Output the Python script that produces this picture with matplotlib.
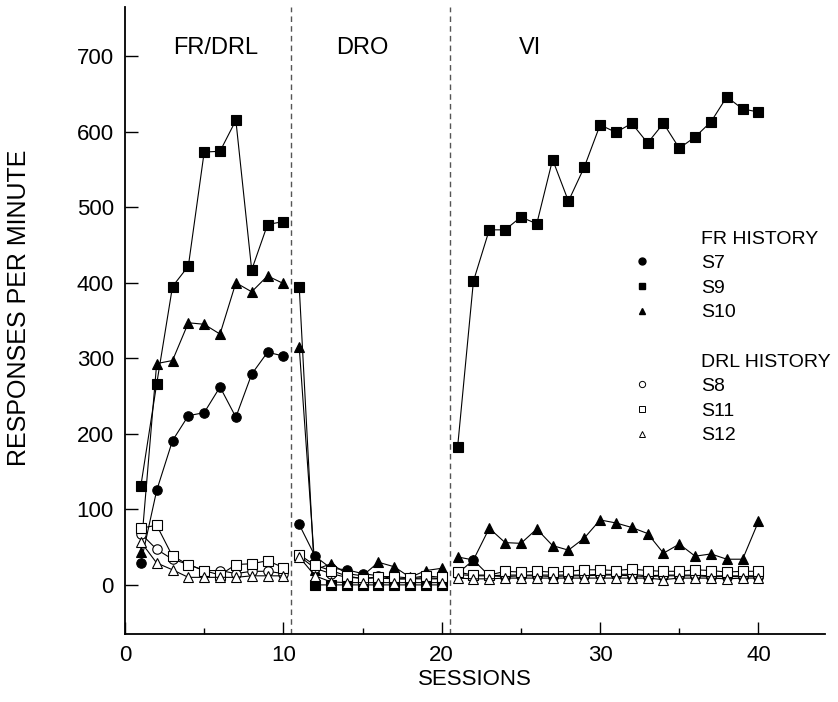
import matplotlib
matplotlib.use("Agg")
import matplotlib.pyplot as plt
from matplotlib.lines import Line2D

plt.rcParams["font.family"] = ["Liberation Sans", "DejaVu Sans"]

# Sessions 1-40, split into three experimental phases
SESSIONS = list(range(1, 41))
PHASES = [("FR/DRL", 1, 10), ("DRO", 11, 20), ("VI", 21, 40)]

# FR history subjects
S7 = [29, 125, 191, 224, 228, 262, 222, 279, 308, 303,
      80, 38, 22, 20, 15, 12, 8, 8, 10, 8,
      15, 33, 12, 11, 12, 12, 11, 12, 12, 13, 13, 12, 11, 12, 12, 12, 11, 11, 11, 11]
S9 = [131, 266, 395, 422, 573, 574, 615, 417, 477, 481,
      395, 0, 0, 0, 0, 0, 0, 0, 0, 0,
      182, 402, 470, 470, 487, 478, 563, 508, 553, 609,
      599, 611, 585, 611, 578, 593, 613, 646, 630, 626]
S10 = [44, 293, 297, 347, 345, 332, 400, 388, 409, 399,
       315, 20, 28, 15, 12, 30, 24, 10, 19, 22,
       37, 33, 75, 56, 55, 74, 52, 46, 62, 86, 82, 76, 68, 42, 54, 38, 41, 34, 34, 84]

# DRL history subjects
S8 = [68, 47, 34, 27, 19, 19, 15, 18, 18, 15,
      38, 22, 15, 10, 9, 9, 8, 8, 8, 8,
      14, 12, 12, 13, 13, 13, 13, 13, 13, 14, 14, 14, 12, 13, 13, 13, 12, 12, 12, 12]
S11 = [75, 79, 38, 27, 19, 13, 27, 28, 32, 23,
       40, 26, 19, 12, 8, 11, 11, 9, 12, 10,
       17, 13, 13, 18, 17, 18, 17, 18, 20, 20, 19, 21, 19, 18, 18, 20, 19, 17, 18, 18]
S12 = [57, 29, 20, 10, 10, 10, 10, 12, 12, 12,
       37, 12, 4, 3, 3, 3, 3, 3, 3, 3,
       9, 8, 8, 9, 9, 9, 9, 9, 9, 9, 9, 9, 9, 7, 9, 9, 9, 8, 9, 9]

SUBJECTS = [
    # label, values, marker, filled
    ("S7", S7, "o", True),
    ("S9", S9, "s", True),
    ("S10", S10, "^", True),
    ("S8", S8, "o", False),
    ("S11", S11, "s", False),
    ("S12", S12, "^", False),
]
MARKER_SIZE = {"o": 6.8, "s": 7.2, "^": 7.4}

fig = plt.figure(figsize=(8.38, 7.02), dpi=100)
ax = fig.add_axes([125 / 838, 1 - 634 / 702, 700 / 838, 627 / 702])

for label, values, marker, filled in SUBJECTS:
    face = "black" if filled else "white"
    # each phase is drawn as its own unconnected segment
    for _, start, end in PHASES:
        ax.plot(SESSIONS[start - 1:end], values[start - 1:end],
                color="black", linewidth=0.8, marker=marker,
                markersize=MARKER_SIZE[marker], markerfacecolor=face,
                markeredgecolor="black", markeredgewidth=0.8, zorder=3)

# phase boundaries and phase names
for (name, start, end) in PHASES:
    if start > 1:
        ax.axvline(start - 0.5, color="#555555", linestyle=(0, (4, 3)),
                   linewidth=1.0, zorder=1)
PHASE_LABEL_X = [5.7, 15.0, 25.6]
for (name, _, _), x in zip(PHASES, PHASE_LABEL_X):
    ax.text(x, 711, name, fontsize=17, ha="center", va="center")

ax.set_xlim(0, 44.2)
ax.set_ylim(-65, 765)
ax.set_xticks([0, 10, 20, 30, 40])
ax.set_xticks([5, 15, 25, 35], minor=True)
ax.set_yticks(range(0, 701, 100))
ax.tick_params(axis="both", which="major", direction="in", length=9,
               width=1.0, labelsize=16, pad=8)
ax.tick_params(axis="x", which="minor", direction="in", length=4.5, width=1.0)
for side in ("top", "right"):
    ax.spines[side].set_visible(False)
for side in ("left", "bottom"):
    ax.spines[side].set_linewidth(1.3)

ax.set_xlabel("SESSIONS", fontsize=16, labelpad=2)
ax.set_ylabel("RESPONSES PER MINUTE", fontsize=18)
ax.yaxis.set_label_coords(-0.134, 0.52)

# grouped legend: header rows use invisible handles
blank = Line2D([], [], linestyle="none")
handles, labels = [blank], ["FR HISTORY"]
for label, _, marker, filled in SUBJECTS[:3]:
    handles.append(Line2D([], [], linestyle="none", marker=marker, markersize=5,
                          markerfacecolor="black", markeredgecolor="black"))
    labels.append(label)
handles += [blank, blank]
labels += [" ", "DRL HISTORY"]
for label, _, marker, filled in SUBJECTS[3:]:
    handles.append(Line2D([], [], linestyle="none", marker=marker, markersize=4.5,
                          markerfacecolor="white", markeredgecolor="black",
                          markeredgewidth=0.7))
    labels.append(label)
ax.legend(handles, labels, loc="upper left", bbox_to_anchor=(623 / 838, 1 - 230 / 702),
          bbox_transform=fig.transFigure, frameon=False, fontsize=14,
          handlelength=2.0, handletextpad=2.0, labelspacing=0.36,
          borderpad=0, borderaxespad=0)

fig.savefig("out.png", dpi=100)
